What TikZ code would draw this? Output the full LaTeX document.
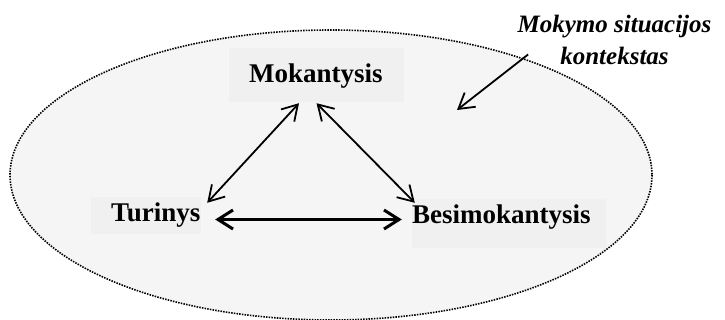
\documentclass[tikz,border=0pt]{standalone}
\usepackage{fontspec}
\setmainfont{Liberation Serif}
\usetikzlibrary{arrows.meta,calc}
\tikzset{
  ctxarea/.style={draw=black,fill=black!4,line width=1.6pt,dash pattern=on 1.5pt off 1.2pt},
  rolebox/.style={fill=black!6,inner sep=0pt},
  rolename/.style={inner sep=0pt,anchor=base west,font=\fontsize{27}{32}\selectfont\bfseries},
  ctxname/.style={inner sep=0pt,anchor=base,font=\fontsize{25}{32}\selectfont\bfseries\itshape},
  link/.style={line width=1.8pt,{Straight Barb[length=15pt,width=18pt]}-{Straight Barb[length=15pt,width=18pt]}},
  thicklink/.style={line width=3pt,{Straight Barb[length=15pt,width=19pt]}-{Straight Barb[length=15pt,width=19pt]}},
  pointer/.style={line width=1.8pt,-{Straight Barb[length=15pt,width=18pt]}}
}
\begin{document}
\begin{tikzpicture}[x=1pt,y=-1pt]
  \useasboundingbox (0,0) rectangle (725,320);
  % teaching situation context
  \path[ctxarea] (331,175) ellipse [x radius=321,y radius=145];
  % boxes
  \node[rolebox,minimum width=175pt,minimum height=54pt] (mokbox) at (316.5,75) {};
  \node[rolebox,minimum width=110pt,minimum height=37pt] (turbox) at (146,215.5) {};
  \node[rolebox,minimum width=194pt,minimum height=49pt] (besbox) at (509,223.5) {};
  % names
  \node[rolename] (mok) at (249,83) {Mokantysis};
  \node[rolename] (tur) at (111,222) {Turinys};
  \node[rolename] (bes) at (412,224) {Besimokantysis};
  \node[ctxname] (ctxa) at (614.5,33) {Mokymo situacijos};
  \node[ctxname] (ctxb) at (614.5,65) {kontekstas};
  % links
  \draw[link] ($(mokbox.south)+(-17.5,1)$) -- ($(turbox.north east)+(6,6)$);
  \draw[link] ($(mokbox.south)+(0,1)$) -- ($(besbox.north west)+(3,4)$);
  \draw[thicklink] ($(turbox.east)+(14,4)$) -- ($(besbox.west)+(-10,-4)$);
  \coordinate (ctxtip) at (457,110);
  \draw[pointer] ($(ctxb.west)+(-32,-2)$) -- (ctxtip);
\end{tikzpicture}
\end{document}
